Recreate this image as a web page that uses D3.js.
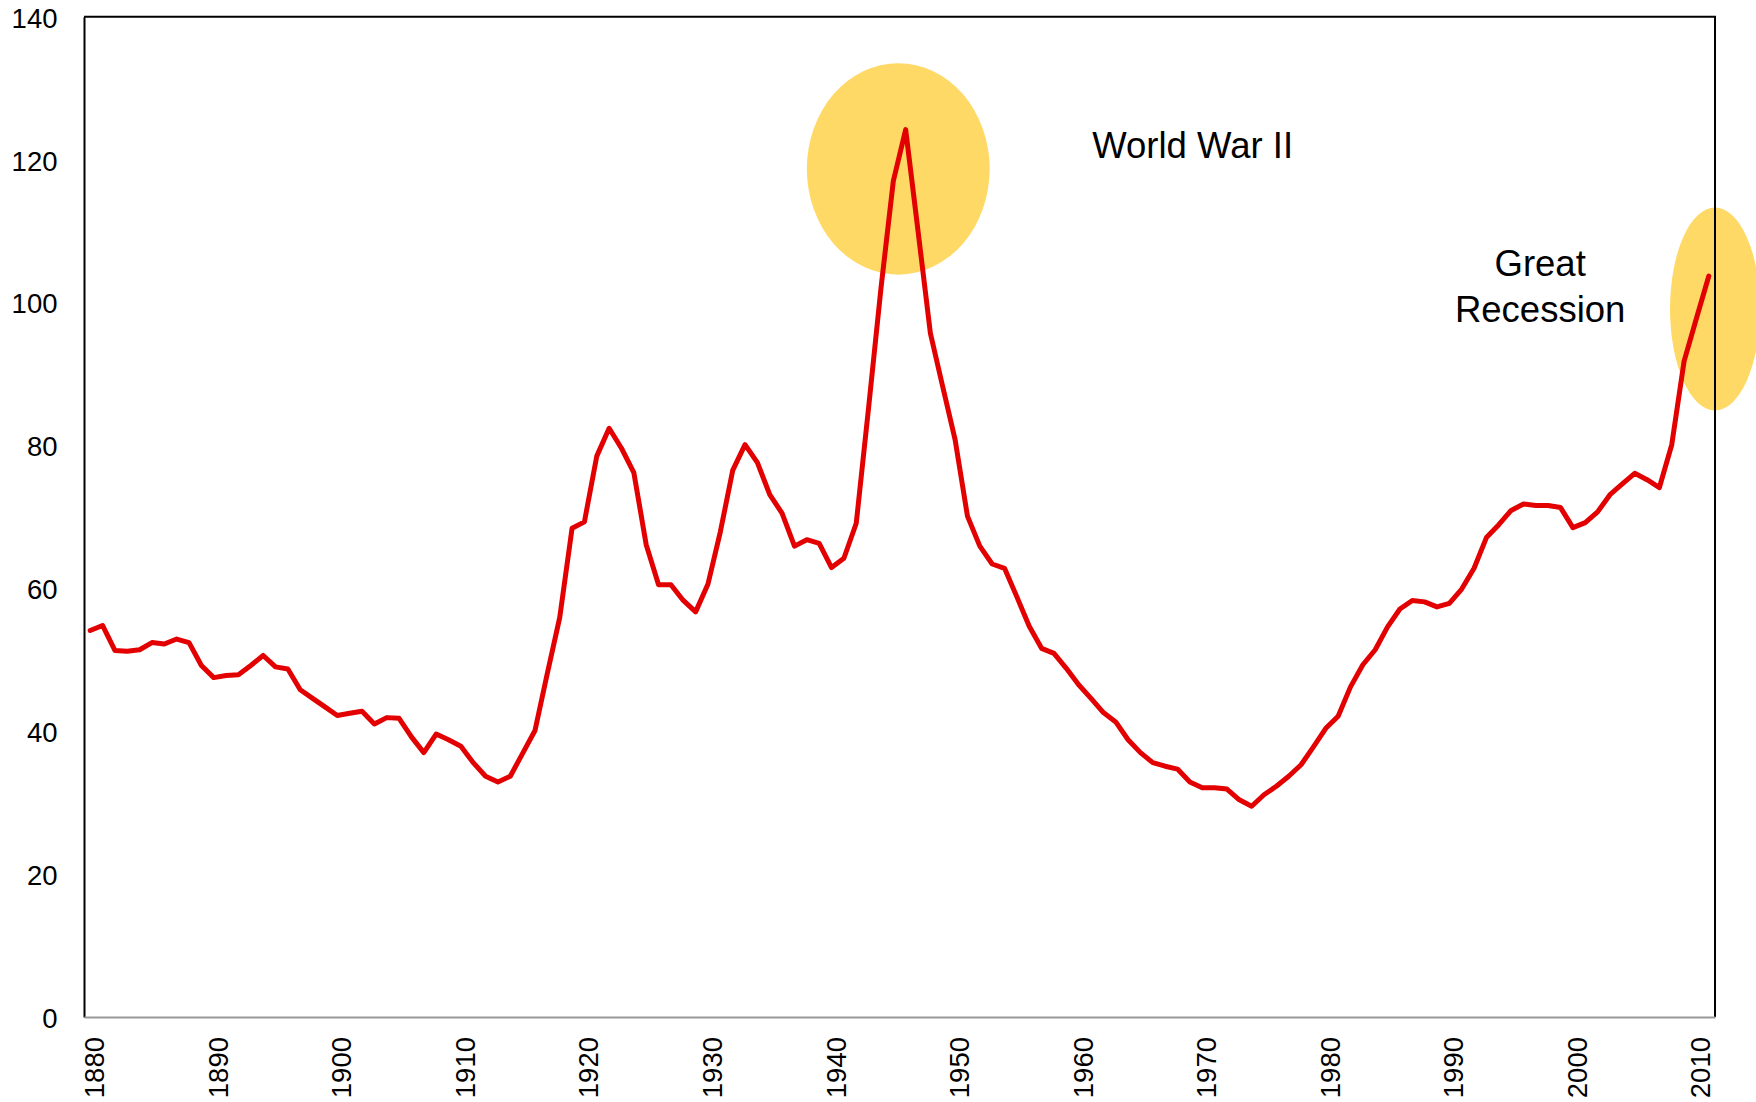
<!DOCTYPE html>
<html>
<head>
<meta charset="utf-8">
<script src="https://cdn.jsdelivr.net/npm/d3@7"></script>
<style>
    body { margin: 0; background: #fff; }
    svg text { font-family: "Liberation Sans", Arial, sans-serif; fill: #000; }
</style>
</head>
<body>
<div id="chart"></div>
<script>
// Years 1880-2011 and values
const startYear = 1880;
const values = [
    54.1, 54.8, 51.3, 51.2, 51.4, 52.4, 52.2, 52.9, 52.4, 49.2,   // 1880s
    47.5, 47.8, 47.9, 49.2, 50.6, 49.0, 48.7, 45.8, 44.6, 43.4,   // 1890s
    42.2, 42.5, 42.8, 41.0, 41.9, 41.8, 39.2, 37.0, 39.6, 38.8,   // 1900s
    37.9, 35.6, 33.7, 32.9, 33.7, 36.9, 40.1, 48.1, 55.9, 68.4,   // 1910s
    69.3, 78.5, 82.4, 79.6, 76.2, 66.1, 60.5, 60.5, 58.3, 56.7,   // 1920s
    60.6, 67.9, 76.5, 80.1, 77.6, 73.1, 70.5, 65.9, 66.8, 66.3,   // 1930s
    62.9, 64.2, 69.1, 85.3, 102.0, 117.0, 124.2, 110.0, 95.7, 88.2, // 1940s
    80.8, 70.1, 65.9, 63.4, 62.8, 58.8, 54.7, 51.6, 50.9, 48.8,   // 1950s
    46.5, 44.6, 42.6, 41.3, 38.8, 37.0, 35.6, 35.1, 34.7, 32.9,   // 1960s
    32.1, 32.1, 31.9, 30.4, 29.5, 31.1, 32.3, 33.7, 35.3, 37.8,   // 1970s
    40.4, 42.1, 46.2, 49.3, 51.4, 54.6, 57.1, 58.3, 58.1, 57.4,   // 1980s
    57.9, 59.9, 62.8, 67.1, 68.9, 70.9, 71.8, 71.6, 71.6, 71.3,   // 1990s
    68.5, 69.2, 70.7, 73.1, 74.6, 76.1, 75.2, 74.1, 80.1, 91.8,   // 2000s
    97.8, 103.7                                                   // 2010-2011
];
const years = values.map((v, i) => startYear + i);
const yTicks = [0, 20, 40, 60, 80, 100, 120, 140];
const xTicks = [1880, 1890, 1900, 1910, 1920, 1930, 1940, 1950, 1960, 1970, 1980, 1990, 2000, 2010];

// Highlighted periods (centre year, centre value, half width in years, half height in units)
const highlights = [
    { year: 1945.4, value: 118.7, rx: 7.4, ry: 14.8 },
    { year: 2011.5, value: 99.1, rx: 3.64, ry: 14.2 }
];
const notes = [
    { lines: ["World War II"], year: 1961.1, value: 120.2, anchor: "start" },
    { lines: ["Great", "Recession"], year: 1997.35, value: 103.7, anchor: "middle" }
];

const width = 1756, height = 1102;
const margin = { top: 16.7, right: 41, bottom: 85, left: 84 };

const svg = d3.select("#chart")
    .append("svg")
    .attr("width", width)
    .attr("height", height);

// Category axis: each year sits in the middle of its slot
const x = d3.scaleLinear()
    .domain([startYear - 0.5, years[years.length - 1] + 0.5])
    .range([margin.left, width - margin.right]);

const y = d3.scaleLinear()
    .domain([0, 140])
    .range([height - margin.bottom, margin.top]);

// Highlight ellipses
svg.selectAll("ellipse")
    .data(highlights)
    .enter()
    .append("ellipse")
    .attr("cx", d => x(d.year))
    .attr("cy", d => y(d.value))
    .attr("rx", d => x(d.year + d.rx) - x(d.year))
    .attr("ry", d => y(0) - y(d.ry))
    .attr("fill", "#FFD966");

// Top and right frame
svg.append("path")
    .attr("d", `M${x.range()[0]},${y(140)}H${x.range()[1]}V${y(0)}`)
    .attr("fill", "none")
    .attr("stroke", "#000")
    .attr("stroke-width", 2);

// Y axis
const yAxis = svg.append("g")
    .attr("transform", `translate(${margin.left},0)`)
    .call(d3.axisLeft(y).tickValues(yTicks).tickSize(0).tickSizeOuter(0).tickPadding(26.5));
yAxis.select(".domain").attr("stroke", "#000").attr("stroke-width", 2);
yAxis.selectAll("text")
    .style("font-size", "27.5px")
    .attr("dy", "0.38em");

// X axis
const xAxis = svg.append("g")
    .attr("transform", `translate(0,${y(0)})`)
    .call(d3.axisBottom(x).tickValues(xTicks).tickSize(0).tickSizeOuter(0).tickFormat(d3.format("d")));
xAxis.select(".domain").attr("stroke", "#999").attr("stroke-width", 2);
xAxis.selectAll("text")
    .style("font-size", "27.5px")
    .attr("text-anchor", "end")
    .attr("transform", "rotate(-90)")
    .attr("x", -20)
    .attr("y", 13.5)
    .attr("dy", 0);

// Line
const line = d3.line()
    .x((d, i) => x(years[i]))
    .y(d => y(d));

svg.append("path")
    .datum(values)
    .attr("fill", "none")
    .attr("stroke", "#E30000")
    .attr("stroke-width", 5)
    .attr("stroke-linejoin", "round")
    .attr("stroke-linecap", "round")
    .attr("d", line);

// Annotations
notes.forEach(n => {
    const t = svg.append("text")
        .attr("x", x(n.year))
        .attr("y", y(n.value))
        .attr("text-anchor", n.anchor)
        .style("font-size", "36.5px");
    n.lines.forEach((l, i) => {
        t.append("tspan")
            .attr("x", x(n.year))
            .attr("dy", i === 0 ? 0 : 45.7)
            .text(l);
    });
});
</script>
</body>
</html>
